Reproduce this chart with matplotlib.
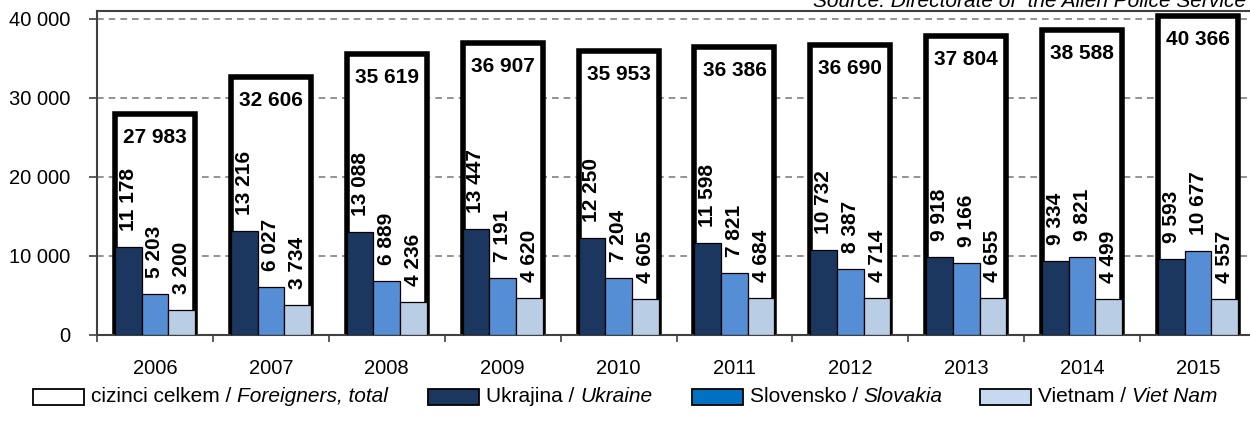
import matplotlib
matplotlib.use("Agg")
import matplotlib.pyplot as plt
from matplotlib.patches import Rectangle
import numpy as np

plt.rcParams['font.family'] = ['Liberation Sans', 'DejaVu Sans']

years = ['2006', '2007', '2008', '2009', '2010', '2011', '2012', '2013', '2014', '2015']
total = [27983, 32606, 35619, 36907, 35953, 36386, 36690, 37804, 38588, 40366]
ukraine = [11178, 13216, 13088, 13447, 12250, 11598, 10732, 9918, 9334, 9593]
slovakia = [5203, 6027, 6889, 7191, 7204, 7821, 8387, 9166, 9821, 10677]
vietnam = [3200, 3734, 4236, 4620, 4605, 4684, 4714, 4655, 4499, 4557]

legend_cz = ['cizinci celkem / ', 'Ukrajina / ', 'Slovensko / ', 'Vietnam / ']
legend_en = ['Foreigners, total', 'Ukraine', 'Slovakia', 'Viet Nam']

c_ukr = '#1B365F'
c_svk = '#558ED5'
c_vnm = '#B9CDE5'
legend_colors = ['white', c_ukr, '#0070C0', '#C5D9F1']


def fmt(v):
    return f"{v:,}".replace(",", " ")


fig = plt.figure(figsize=(12.5, 4.21), dpi=100)
ax = fig.add_axes([97 / 1250, 1 - 335 / 421, 1159 / 1250, (335 - 11) / 421])

x = np.arange(len(years))
ax.bar(x, total, width=0.69, color='white', edgecolor='black', linewidth=4.0, zorder=2)
w = 0.23
ax.bar(x - w, ukraine, width=w, color=c_ukr, edgecolor='black', linewidth=0.9, zorder=3)
ax.bar(x, slovakia, width=w, color=c_svk, edgecolor='black', linewidth=0.9, zorder=3)
ax.bar(x + w, vietnam, width=w, color=c_vnm, edgecolor='black', linewidth=0.9, zorder=3)

for i in range(len(years)):
    ax.annotate(fmt(total[i]), (x[i], total[i]), xytext=(0, -14), textcoords='offset pixels',
                ha='center', va='top', fontsize=15, fontweight='bold', zorder=5)
    for off, vals in ((-w, ukraine), (0, slovakia), (w, vietnam)):
        ax.annotate(fmt(vals[i]), (x[i] + off, vals[i]), xytext=(0, 16), textcoords='offset pixels',
                    ha='center', va='bottom', rotation=90, fontsize=15, fontweight='bold', zorder=5)

ax.set_xlim(-0.5, len(years) - 0.5)
ax.set_ylim(0, 41000)
ax.set_yticks([0, 10000, 20000, 30000, 40000])
ax.set_yticklabels([fmt(v) for v in [0, 10000, 20000, 30000, 40000]], fontsize=14.5)
ax.yaxis.grid(True, linestyle=(0, (4, 3)), color='#808080', linewidth=1.2, zorder=0)
ax.set_axisbelow(True)

ax.set_xticks(x)
ax.set_xticklabels(years, fontsize=14.5)
ax.tick_params(axis='x', length=0, pad=17)
ax.set_xticks(np.arange(len(years) + 1) - 0.5, minor=True)
ax.tick_params(axis='x', which='minor', length=5, width=1.2, color='#404040')
ax.tick_params(axis='y', length=6, width=1.2, color='#404040', pad=13)
for s in ['left', 'bottom', 'top', 'right']:
    ax.spines[s].set_color('#404040')
    ax.spines[s].set_linewidth(1.5)

fig.text(813 / 1250, 1 - 7 / 421, 'Source: Directorate of  the Alien Police Service',
         ha='left', va='baseline', fontsize=15, style='italic')

# manual legend
fig.canvas.draw()
r = fig.canvas.get_renderer()
box_x = [33, 428, 692, 980]
ly = 397
for i in range(4):
    bx = box_x[i]
    fig.patches.append(Rectangle((bx / 1250, (421 - ly - 8) / 421), 51 / 1250, 16 / 421,
                                 transform=fig.transFigure, facecolor=legend_colors[i],
                                 edgecolor='black', linewidth=1.3))
    tx = (bx + 58) / 1250
    t1 = fig.text(tx, 1 - ly / 421, legend_cz[i], ha='left', va='center', fontsize=15)
    bb = t1.get_window_extent(renderer=r)
    fig.text(bb.x1 / 1250, 1 - ly / 421, legend_en[i], ha='left', va='center',
             fontsize=15, style='italic')

fig.savefig('out.png', dpi=100)
